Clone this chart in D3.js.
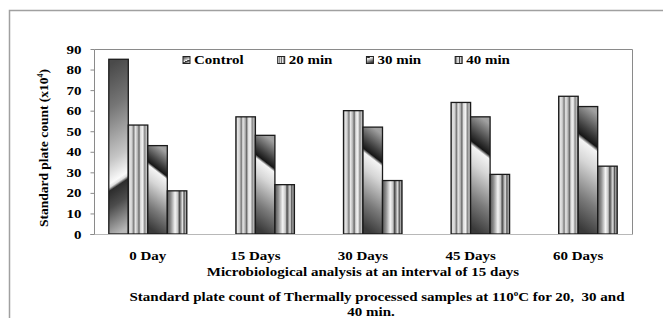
<!DOCTYPE html>
<html><head><meta charset="utf-8">
<script src="https://cdn.jsdelivr.net/npm/d3@7"></script>
<style>
body{margin:0;background:#fff}
</style>
</head><body><svg id="c" width="663" height="318"></svg>
<script>
const categories = ["0 Day","15 Days","30 Days","45 Days","60 Days"];
const seriesNames = ["Control","20 min","30 min","40 min"];
const control = [85, null, null, null, null];
const min20 = [53, 57, 60, 64, 67];
const min30 = [43, 48, 52, 57, 62];
const min40 = [21, 24, 26, 29, 33];
const yTicks = [0,10,20,30,40,50,60,70,80,90];
const xTitle = "Microbiological analysis at an interval of 15 days";
const yTitleMain = "Standard plate count (x10";
const yTitleSup = "4";
const captionLine1a = "Standard plate count of Thermally processed samples at 110";
const captionLine1b = "C for 20,\u00a0 30 and";
const captionLine2 = "40 min.";

const seriesValues = [control, min20, min30, min40];
const FONT = "'Liberation Serif', 'Times New Roman', Tinos, 'DejaVu Serif', serif";

const svg = d3.select("#c");
const defs = svg.append("defs");
const M = {left:94, right:632, top:49, bottom:234};
const SX = 1.2;
function stretch(sel){
  sel.attr("transform", function(){
    const xx = +this.getAttribute("x") || 0;
    return `translate(${xx},0) scale(${SX},1) translate(${-xx},0)`;
  });
}
function font(sel, size){
  sel.attr("font-family", null).style("font-family", FONT).style("font-weight", "bold")
     .style("font-size", size + "px").style("fill", "#000");
}

// outer frame
svg.append("path").attr("d","M9.5,318 V10.5 H663")
  .attr("fill","none").attr("stroke","#a0a0a0").attr("stroke-width",1.5);

const x = d3.scaleBand().domain(categories).range([M.left, M.right])
  .paddingInner(0.275).paddingOuter(0.1375);
const xs = d3.scaleBand().domain(seriesNames).range([0, x.bandwidth()]);
const y = d3.scaleLinear().domain([0, 90]).range([M.bottom, M.top]);

// plot area border
svg.append("path")
  .attr("d", `M${M.left+0.5},${M.bottom} V${M.top+0.5} H${M.right+0.5} V${M.bottom}`)
  .attr("fill","none").attr("stroke","#8a8a8a").attr("stroke-width",1);

// gradients
function linGrad(id, x1,y1,x2,y2, stops, units){
  const g = defs.append("linearGradient").attr("id", id)
    .attr("x1",x1).attr("y1",y1).attr("x2",x2).attr("y2",y2);
  if (units) g.attr("gradientUnits", units);
  stops.forEach(([o,c]) => g.append("stop").attr("offset", o).attr("stop-color", c));
  return g;
}
const stops20 = [[0,"#8e8e8e"],[0.08,"#e4e4e4"],[0.18,"#d2d2d2"],[0.28,"#7a7a7a"],[0.36,"#e8e8e8"],
  [0.48,"#b0b0b0"],[0.55,"#666"],[0.63,"#dcdcdc"],[0.74,"#f2f2f2"],[0.84,"#8a8a8a"],[0.93,"#c4c4c4"],[1,"#6e6e6e"]];
const stops40 = [[0,"#555"],[0.18,"#909090"],[0.4,"#f4f4f4"],[0.54,"#c4c4c4"],[0.62,"#484848"],
  [0.7,"#9a9a9a"],[0.78,"#e2e2e2"],[0.86,"#555"],[0.93,"#b0b0b0"],[1,"#666"]];
const stopsC = [[0,"#4a4a4a"],[0.25,"#767676"],[0.55,"#c6c6c6"],[0.68,"#fafafa"],[0.7,"#dedede"],
  [0.72,"#2c2c2c"],[0.82,"#4c4c4c"],[1,"#b8b8b8"]];
const stops30 = [[0,"#a0a0a0"],[0.18,"#404040"],[0.265,"#161616"],[0.3,"#f4f4f4"],[0.45,"#d6d6d6"],
  [0.75,"#7a7a7a"],[1,"#3a3a3a"]];
linGrad("g20",0,0,1,0,stops20);
linGrad("g40",0,0,1,0,stops40);
linGrad("gCl",0,0,0.4,1,stopsC);
linGrad("g30l",0,0,0.4,1,stops30);

function diagGradient(id, bx, by, bw, bh, a, stops){
  const cx = bx + bw/2;
  const d2 = bw*bw + a*a;
  const k = bh*bw/d2;
  linGrad(id, cx, by, cx - a*k, by + bw*k, stops, "userSpaceOnUse");
}

// bars
const bars = [];
categories.forEach((cat, i) => {
  seriesNames.forEach((s, j) => {
    const v = seriesValues[j][i];
    if (v != null) bars.push({cat, s, j, i, v});
  });
});
bars.forEach((b, n) => {
  const bx = x(b.cat) + xs(b.s), bw = xs.bandwidth();
  const by = y(b.v), bh = y(0) - y(b.v);
  if (b.j === 0) { b.fill = `url(#gc${n})`; diagGradient(`gc${n}`, bx, by, bw, bh, -13, stopsC); }
  else if (b.j === 2) { b.fill = `url(#gd${n})`; diagGradient(`gd${n}`, bx, by, bw, bh, 15, stops30); }
  else if (b.j === 1) b.fill = "url(#g20)";
  else b.fill = "url(#g40)";
});
svg.append("g").selectAll("rect").data(bars).join("rect")
  .attr("x", d => x(d.cat) + xs(d.s))
  .attr("y", d => y(d.v))
  .attr("width", xs.bandwidth())
  .attr("height", d => y(0) - y(d.v))
  .attr("fill", d => d.fill)
  .attr("stroke", "#1a1a1a").attr("stroke-width", 1.3);

// bottom axis line
svg.append("line").attr("x1", M.left - 4).attr("x2", M.right + 1)
  .attr("y1", M.bottom + 0.5).attr("y2", M.bottom + 0.5)
  .attr("stroke", "#b8b8b8").attr("stroke-width", 1.2);

// y axis
const yAxis = svg.append("g").attr("transform", `translate(${M.left+0.5},0)`)
  .call(d3.axisLeft(y).tickValues(yTicks).tickSize(4).tickPadding(9));
yAxis.attr("font-family", null);
yAxis.select(".domain").remove();
yAxis.selectAll(".tick line").attr("stroke", "#8a8a8a");
yAxis.selectAll("text").call(font, 12.5).call(stretch);

// x axis labels
const xAxis = svg.append("g").attr("transform", `translate(0,${M.bottom})`)
  .call(d3.axisBottom(x).tickSize(0).tickPadding(17));
xAxis.attr("font-family", null);
xAxis.select(".domain").remove();
xAxis.selectAll("text").call(font, 12.5).call(stretch);

// x title
svg.append("text").attr("x", 363).attr("y", 276.5).attr("text-anchor", "middle")
  .text(xTitle).call(font, 12.5).call(stretch);

// y title
const yt = svg.append("text").attr("transform", "translate(48,148) rotate(-90)")
  .attr("text-anchor", "middle").call(font, 13.5);
yt.append("tspan").text(yTitleMain);
yt.append("tspan").text(yTitleSup).style("font-size", "8px").attr("dy", -5);
yt.append("tspan").text(")").attr("dy", 5);

// legend
const lg = svg.append("g");
const legFills = ["url(#gCl)", "url(#g20)", "url(#g30l)", "url(#g40)"];
let cx = 183;
seriesNames.forEach((s, j) => {
  lg.append("rect").attr("x", cx).attr("y", 56.5).attr("width", 7).attr("height", 7)
    .attr("fill", legFills[j]).attr("stroke", "#222").attr("stroke-width", 1);
  const t = lg.append("text").attr("x", cx + 11).attr("y", 64.5)
    .text(s).call(font, 12.5).call(stretch);
  const w = t.node().getComputedTextLength() * SX;
  cx += 11 + w + 34;
});

// caption
const c1 = svg.append("text").attr("x", 377).attr("y", 301).attr("text-anchor", "middle")
  .call(font, 12.5);
c1.append("tspan").text(captionLine1a);
c1.append("tspan").text("o").style("font-size", "7.5px").attr("dy", -5);
c1.append("tspan").text(captionLine1b).attr("dy", 5);
c1.call(stretch);
svg.append("text").attr("x", 371).attr("y", 316).attr("text-anchor", "middle")
  .text(captionLine2).call(font, 12.5).call(stretch);
</script></body></html>
